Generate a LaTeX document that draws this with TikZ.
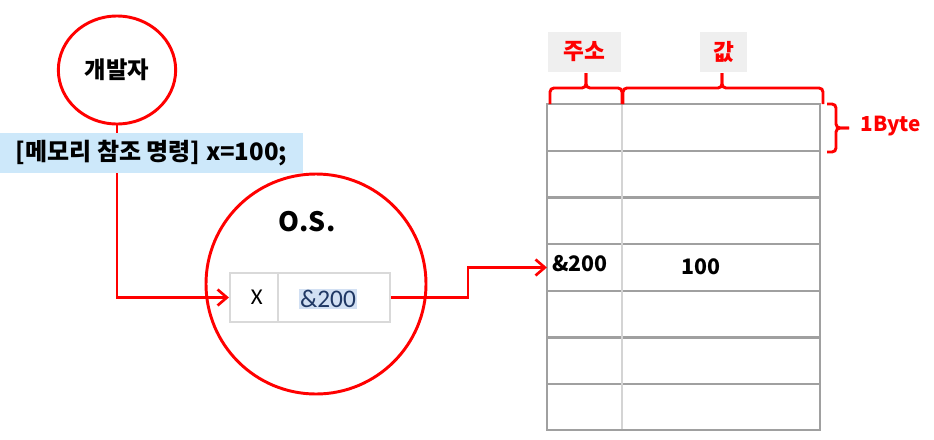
\documentclass[tikz,border=0pt]{standalone}
\usepackage{fontspec}
\setmainfont{Noto Sans CJK KR}
\newfontfamily\calfont{Carlito}
\usetikzlibrary{shapes.geometric,arrows.meta}
\definecolor{cmdblue}{HTML}{CDE8FA}
\definecolor{hdrgray}{HTML}{EFEFEF}
\definecolor{tblgray}{HTML}{A0A0A0}
\definecolor{colgray}{HTML}{D4D4D4}
\definecolor{osgray}{HTML}{D9D9D9}
\definecolor{hlblue}{HTML}{D2E0F3}
\definecolor{hltext}{HTML}{203864}
\begin{document}
\begin{tikzpicture}[x=0.75pt,y=-0.75pt,
  redline/.style={draw=red, line width=2.2pt},
  redarrow/.style={redline, -{Straight Barb[length=7pt,width=12pt,line width=2pt]}},
  redbrace/.style={redline, rounded corners=3pt},
  hdrbox/.style={fill=hdrgray, inner sep=0pt, minimum height=30pt, text=red, font=\bfseries\fontsize{17}{17}\selectfont},
  oscell/.style={draw=osgray, line width=1.6pt, inner sep=0pt, minimum height=36.5pt},
  tblcell/.style={inner sep=0pt, minimum width=56pt, minimum height=35pt},
  bigtxt/.style={font=\bfseries\fontsize{16}{16}\selectfont}
]
\useasboundingbox (0,0) rectangle (934,439);

% developer circle
\node (dev) [ellipse, redline, minimum width=88pt, minimum height=81pt, inner sep=0pt,
  font=\bfseries\fontsize{17.5}{17.5}\selectfont] at (117,70) {개발자};

% command box
\node (cmd) [fill=cmdblue, minimum width=227pt, minimum height=30pt, inner sep=0pt,
  font=\bfseries\fontsize{18}{18}\selectfont] at (151.5,153) {[메모리 참조 명령] x=100;};

% O.S. circle
\node (os) [circle, redline, minimum size=165pt, inner sep=0pt] at (316,284) {};
\node (ostitle) [font=\bfseries\fontsize{20}{20}\selectfont] at (307,222) {O.S.};

% O.S. table
\node (xc) [oscell, minimum width=36pt, font=\calfont\fontsize{17}{17}\selectfont] at (254,297.5) {\hspace{4pt}X};
\node (vc) [oscell, minimum width=84pt] at (334,297.5) {};
\node (vtxt) [fill=hlblue, inner sep=1pt, text=hltext, font=\calfont\fontsize{19}{19}\selectfont] at (328,299) {\&200};

% connectors
\draw[redline] (dev.south) -- (dev.south |- cmd.north);
\draw[redarrow] (dev.south |- cmd.south) |- (xc.west);

% memory table
\foreach \y in {151,197.5,244,291,337.5,384} {
  \draw[tblgray, line width=1.7pt] (547,\y) -- (820,\y);
}
\draw[colgray, line width=1.4pt] (622,104) -- (622,430);
\draw[tblgray, line width=1.7pt] (547,104) rectangle (820,430);

\node (addr) [tblcell] at (584.5,267.5) {};
\node (val) [tblcell, minimum width=148pt] at (721,267.5) {};
\node (addrtxt) [bigtxt] at (580,264) {\&200};
\node (valtxt) [bigtxt] at (701,267) {100};

\coordinate (bend) at (468,297.5);
\draw[redarrow] (vc.east) -- (bend) |- (addr.west);

% headers
\node (h1) [hdrbox, minimum width=55pt] at (584.5,52) {주소};
\node (h2) [hdrbox, minimum width=35pt] at (723.5,52) {값};

% braces
\draw[redbrace] (550,104) -- (550,88) -- (586,88) -- (586,73);
\draw[redbrace] (586,73) -- (586,88) -- (622,88) -- (622,104);
\draw[redbrace] (623,104) -- (623,88) -- (722,88) -- (722,73);
\draw[redbrace] (722,73) -- (722,88) -- (823,88) -- (823,104);
\draw[redbrace] (827,104) -- (836,104) -- (836,128) -- (849,128);
\draw[redbrace] (849,128) -- (836,128) -- (836,152) -- (827,152);
\node (byte) [text=red, font=\bfseries\fontsize{15.5}{15.5}\selectfont] at (891,126) {1Byte};
\end{tikzpicture}
\end{document}
